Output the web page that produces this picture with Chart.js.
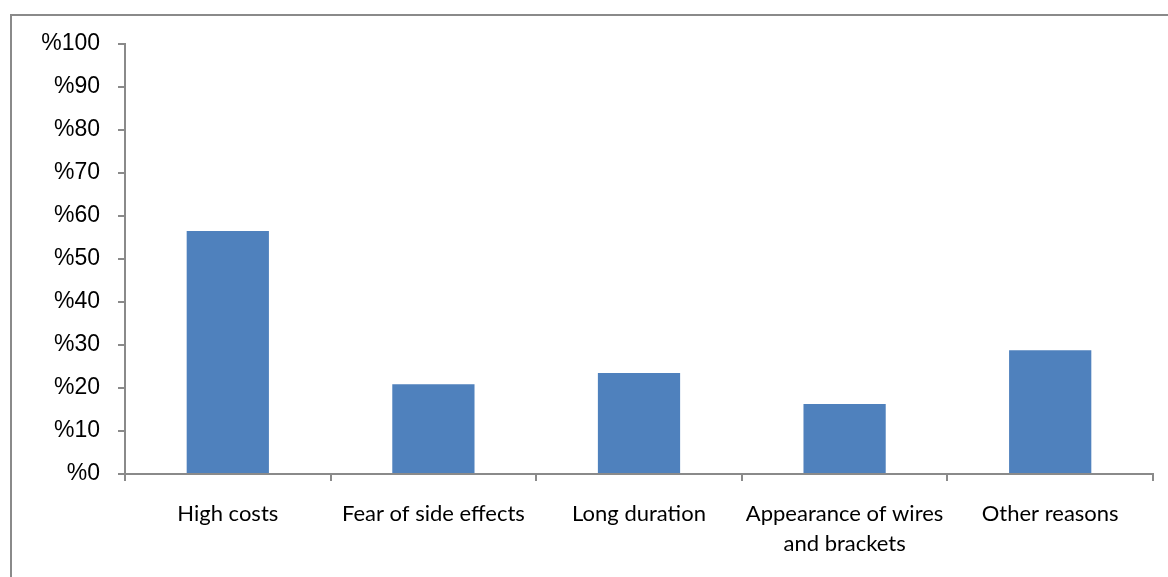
<!DOCTYPE html>
<html>
<head>
<meta charset="utf-8">
<script src="https://cdn.jsdelivr.net/npm/chart.js@4"></script>
<style>
  html, body { margin: 0; padding: 0; background: #fff; overflow: hidden; }
  #frame { position: absolute; left: 10px; top: 14px; width: 1200px; height: 600px;
           border-top: 2px solid #8a8a8a; border-left: 2px solid #8a8a8a; }
  #wrap { position: absolute; left: 0; top: 0; width: 1168px; height: 577px; }
</style>
</head>
<body>
<div id="frame"></div>
<div id="wrap"><canvas id="reasonsChart"></canvas></div>
<script>
// categorias e valores (%)
const categorias = ['High costs', 'Fear of side effects', 'Long duration', ['Appearance of wires', 'and brackets'], 'Other reasons'];
const valores = [56.5, 20.9, 23.5, 16.3, 28.8];
const yTicks = [0, 10, 20, 30, 40, 50, 60, 70, 80, 90, 100];

const axisColor = '#8a8a8a';

const ctx = document.getElementById('reasonsChart').getContext('2d');
const reasonsChart = new Chart(ctx, {
    type: 'bar',
    data: {
        labels: categorias,
        datasets: [{
            data: valores,
            backgroundColor: '#4f81bd',
            borderWidth: 0,
            barPercentage: 1,
            categoryPercentage: 0.4
        }]
    },
    options: {
        responsive: true,
        maintainAspectRatio: false,
        animation: false,
        layout: { padding: { top: 44, right: 15, bottom: 0, left: 0 } },
        plugins: {
            legend: { display: false },
            tooltip: { enabled: false }
        },
        scales: {
            x: {
                grid: {
                    offset: true,
                    drawOnChartArea: false,
                    drawTicks: true,
                    tickLength: 7,
                    color: axisColor,
                    lineWidth: 2
                },
                border: { display: true, color: axisColor, width: 2 },
                ticks: {
                    color: '#000',
                    padding: 18,
                    maxRotation: 0,
                    autoSkip: false,
                    font: { family: 'Lato', size: 22, lineHeight: 1.35 }
                },
                afterFit: (scale) => { scale.height = 103; }
            },
            y: {
                min: 0,
                max: 100,
                afterBuildTicks: (scale) => { scale.ticks = yTicks.map(v => ({ value: v })); },
                grid: {
                    drawOnChartArea: false,
                    drawTicks: true,
                    tickLength: 7,
                    color: axisColor,
                    lineWidth: 2
                },
                border: { display: true, color: axisColor, width: 2 },
                ticks: {
                    color: '#000',
                    padding: 18,
                    callback: (v) => '%' + v,
                    font: { family: 'Liberation Sans', size: 23 }
                },
                afterFit: (scale) => { scale.width = 125; }
            }
        }
    }
});
</script>
</body>
</html>
